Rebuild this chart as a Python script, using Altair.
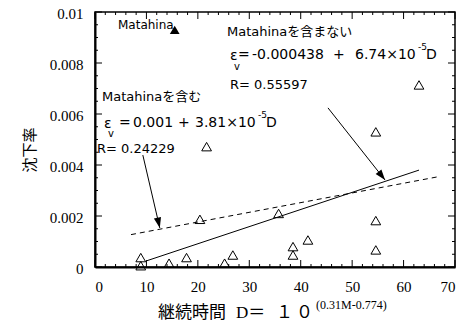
import altair as alt
import pandas as pd

# ---- data ----
D_vals = [8.9, 8.9, 14.4, 17.8, 20.4, 21.7, 25.2, 26.8, 35.7, 38.5, 38.5, 41.4, 54.6, 54.6, 54.6, 63.0]
strain = [0.00037, 0.00005, 0.00015, 0.00037, 0.00187, 0.00472, 0.00015, 0.00047, 0.0021, 0.0008,
          0.00047, 0.00106, 0.0053, 0.00182, 0.00067, 0.00714]
matahina_D = [15.5]
matahina_s = [0.0093]

# regression line end points (as drawn)
fit_excl_D = [10, 63]
fit_excl_s = [0.00024, 0.0038]
fit_incl_D = [7, 67]
fit_incl_s = [0.00127, 0.00355]

# annotation arrows: start D, start strain, end D, end strain
arrow_D0 = [45.3, 9.3]
arrow_s0 = [0.00624, 0.00439]
arrow_D1 = [56.4, 12.6]
arrow_s1 = [0.00341, 0.00153]
arrow_angle = [321.6, 346.9]

x_major = [0, 10, 20, 30, 40, 50, 60, 70]
x_minor = [v for v in range(0, 71, 2) if v % 10 != 0]
y_major = [0, 0.002, 0.004, 0.006, 0.008, 0.01]
y_minor = [i * 0.0005 for i in range(21) if i % 4 != 0]

W, H = 360, 255
SERIF_LAT = "Times New Roman, Liberation Serif, serif"
SERIF = "Times New Roman, Liberation Serif, Noto Sans CJK JP, serif"
SANS = "DejaVu Sans, Noto Sans CJK JP, sans-serif"

xs = alt.Scale(domain=[0, 70], nice=False, zero=False)
ys = alt.Scale(domain=[0, 0.01], nice=False, zero=False)
xaxis = alt.Axis(values=x_major, title=None, ticks=False, labelFont=SERIF_LAT,
                 labelFontSize=15, labelColor="black", labelPadding=12,
                 domainColor="black", domainWidth=2, grid=False)
yaxis = alt.Axis(values=y_major, title=None, ticks=False, format=".3~f",
                 labelFont=SERIF_LAT, labelFontSize=15, labelColor="black",
                 labelPadding=12, labelOffset=1, domainColor="black", domainWidth=2, grid=False)


def X(f):
    return alt.X(f, scale=xs, axis=xaxis)


def Y(f):
    return alt.Y(f, scale=ys, axis=yaxis)


pts = pd.DataFrame({"D": D_vals, "s": strain})
base_points = alt.Chart(pts).mark_point(
    shape="triangle-up", size=95, filled=False, color="black", strokeWidth=1, opacity=1
).encode(x=X("D:Q"), y=Y("s:Q"))

mat = alt.Chart(pd.DataFrame({"D": matahina_D, "s": matahina_s})).mark_point(
    shape="triangle-up", size=95, filled=True, color="black", opacity=1
).encode(x=X("D:Q"), y=Y("s:Q"))

solid = alt.Chart(pd.DataFrame({"D": fit_excl_D, "s": fit_excl_s})).mark_line(
    color="black", strokeWidth=1
).encode(x=X("D:Q"), y=Y("s:Q"))

dashed = alt.Chart(pd.DataFrame({"D": fit_incl_D, "s": fit_incl_s})).mark_line(
    color="black", strokeWidth=1, strokeDash=[5, 4]
).encode(x=X("D:Q"), y=Y("s:Q"))

arr = pd.DataFrame({"D0": arrow_D0, "s0": arrow_s0, "D1": arrow_D1, "s1": arrow_s1, "ang": arrow_angle})
arrow_lines = alt.Chart(arr).mark_rule(color="black", strokeWidth=1).encode(
    x=X("D0:Q"), y=Y("s0:Q"), x2="D1:Q", y2="s1:Q")
arrow_heads = alt.Chart(arr).mark_point(
    shape="M0,0L-0.35,-1L0.35,-1Z", size=440, filled=True, color="black", opacity=1
).encode(x=X("D1:Q"), y=Y("s1:Q"), angle=alt.Angle("ang:Q", scale=None))


# inward ticks on all four sides
def ticks_x(vals, length, top):
    y0 = 0 if top else H
    y1 = length if top else H - length
    return alt.Chart(pd.DataFrame({"D": vals})).mark_rule(color="black", strokeWidth=1).encode(
        x=X("D:Q"), y=alt.value(y0), y2=alt.value(y1))


def ticks_y(vals, length, right):
    x0 = W if right else 0
    x1 = W - length if right else length
    return alt.Chart(pd.DataFrame({"s": vals})).mark_rule(color="black", strokeWidth=1).encode(
        y=Y("s:Q"), x=alt.value(x0), x2=alt.value(x1))


tick_layers = [ticks_x(x_major, 7, False), ticks_x(x_minor, 3, False),
               ticks_x(x_major, 7, True), ticks_x(x_minor, 3, True),
               ticks_y(y_major, 7, False), ticks_y(y_minor, 3, False),
               ticks_y(y_major, 7, True), ticks_y(y_minor, 3, True)]


def txt(s, x, y, size=14, font=SANS, align="left", angle=0, baseline="middle"):
    return alt.Chart(alt.Data(values=[{}])).mark_text(
        text=s, font=font, fontSize=size, align=align, baseline=baseline, angle=angle, color="black"
    ).encode(x=alt.value(x), y=alt.value(y))


texts = [
    txt("Matahina", 23, 13, size=12),
    txt("Matahinaを含まない", 132, 20, size=13),
    # equation (excluding Matahina)
    txt("ε", 135, 44),
    txt("v", 139, 55, size=10),
    txt("=", 143, 43),
    txt("-0.000438", 157, 43),
    txt("+", 238, 43),
    txt("6.74×10", 260, 43),
    txt("-5", 323, 35, size=9),
    txt("D", 331, 43),
    txt("R= 0.55597", 135, 73, size=13),
    # equation (including Matahina)
    txt("Matahinaを含む", 7, 85, size=13),
    txt("ε", 9, 112),
    txt("v", 13, 122, size=10),
    txt("=", 24, 111),
    txt("0.001", 38, 111),
    txt("+", 83, 111),
    txt("3.81×10", 100, 111),
    txt("-5", 163, 103, size=9),
    txt("D", 171, 111),
    txt("R= 0.24229", 2, 137, size=13),
    # axis titles
    txt("継続時間", 63, 301, size=17, font=SERIF),
    txt("D＝", 141, 301, size=17, font=SERIF),
    txt("１", 181, 301, size=17, font=SERIF),
    txt("０", 201, 301, size=17, font=SERIF),
    txt("(0.31M-0.774)", 221, 293, size=12, font=SERIF),
    txt("沈下率", -65, 138, size=15, font=SERIF, align="center", angle=270),
]

chart = alt.layer(
    base_points, mat, dashed, solid, arrow_lines, arrow_heads, *tick_layers, *texts
).properties(
    width=W, height=H,
    autosize=alt.AutoSizeParams(type="none"),
    padding={"left": 87, "top": 4, "right": 13, "bottom": 55},
    background="white",
).configure_view(stroke="black", strokeWidth=1.5)

chart.save("out.html", embed_options={"renderer": "svg", "actions": False})
